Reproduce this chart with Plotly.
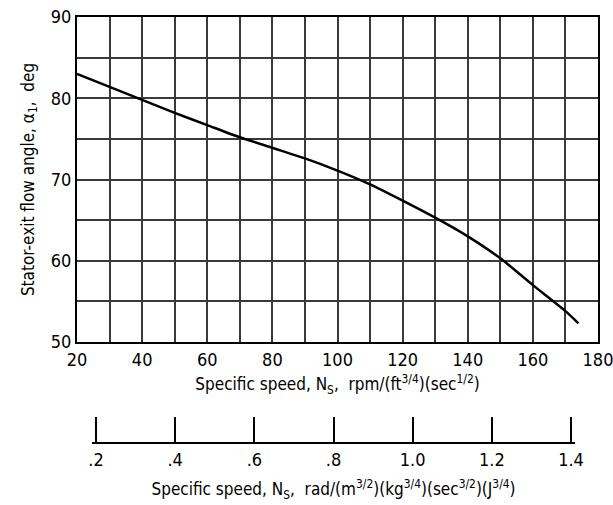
import plotly.graph_objects as go

ns_us = [20, 30, 40, 50, 60, 70, 80, 90, 100, 110, 120, 130, 140, 150, 160, 170, 174]
alpha1 = [83.0, 81.4, 79.8, 78.2, 76.7, 75.2, 73.9, 72.6, 71.1, 69.4, 67.4, 65.3, 63.0, 60.3, 57.0, 53.8, 52.3]

x_ticks = [20, 40, 60, 80, 100, 120, 140, 160, 180]
y_ticks = [50, 60, 70, 80, 90]
si_ticks = [0.2, 0.4, 0.6, 0.8, 1.0, 1.2, 1.4]
si_labels = [".2", ".4", ".6", ".8", "1.0", "1.2", "1.4"]

FONT = "DejaVu Sans Condensed, Liberation Sans Narrow, DejaVu Sans, sans-serif"
GRID = "#3a3a3a"

fig = go.Figure()
fig.add_trace(go.Scatter(x=ns_us, y=alpha1, mode="lines",
                         line=dict(color="black", width=2.5, shape="spline", smoothing=0.6),
                         showlegend=False, hoverinfo="skip"))
# invisible trace so the secondary (SI) axis is drawn
fig.add_trace(go.Scatter(x=[si_ticks[0], si_ticks[-1]], y=[0, 0], xaxis="x2", yaxis="y2",
                         mode="markers", marker=dict(size=1, opacity=0),
                         showlegend=False, hoverinfo="skip"))

fig.update_layout(
    width=613, height=505,
    margin=dict(l=77, r=15, t=17, b=10, autoexpand=False),
    paper_bgcolor="white", plot_bgcolor="white",
    font=dict(family=FONT, color="black", size=16),
    hovermode=False,
    xaxis=dict(range=[20, 180], domain=[0, 1], tickvals=x_ticks, automargin=False,
               showgrid=True, gridcolor=GRID, gridwidth=2,
               minor=dict(dtick=10, showgrid=True, gridcolor=GRID, gridwidth=2),
               showline=True, linecolor="black", linewidth=2, mirror=True,
               ticks="", tickfont=dict(size=18), zeroline=False,
               ticklabeloverflow="allow",
               title=dict(text="Specific speed, N<sub>S</sub>,  rpm/(ft<sup>3/4</sup>)(sec<sup>1/2</sup>)",
                          font=dict(size=17), standoff=10),
               anchor="y"),
    yaxis=dict(range=[50, 90], domain=[0.3201, 1], tickvals=y_ticks, automargin=False,
               showgrid=True, gridcolor=GRID, gridwidth=2,
               minor=dict(dtick=5, showgrid=True, gridcolor=GRID, gridwidth=2),
               showline=True, linecolor="black", linewidth=2, mirror=True,
               ticks="", tickfont=dict(size=18), zeroline=False,
               title=dict(text="Stator-exit flow angle, α<sub>1</sub>,  deg",
                          font=dict(size=17), standoff=12),
               anchor="x"),
    xaxis2=dict(range=[0.19, 1.41], domain=[0.0289, 0.9558], anchor="y2", automargin=False,
                tickvals=si_ticks, ticktext=si_labels,
                showgrid=False, zeroline=False,
                showline=True, linecolor="black", linewidth=2,
                ticks="inside", ticklen=25, tickwidth=2, tickcolor="black",
                tickfont=dict(size=18), ticklabeloverflow="allow",
                title=dict(text="Specific speed, N<sub>S</sub>,  rad/(m<sup>3/2</sup>)(kg<sup>3/4</sup>)(sec<sup>3/2</sup>)(J<sup>3/4</sup>)",
                           font=dict(size=17), standoff=15)),
    yaxis2=dict(domain=[0.1109, 0.17], range=[0, 1], visible=False, anchor="x2"),
)

fig.write_html("out.html", config=dict(displayModeBar=False, staticPlot=True),
               post_script="document.body.style.margin='0';document.body.style.overflow='hidden';")
